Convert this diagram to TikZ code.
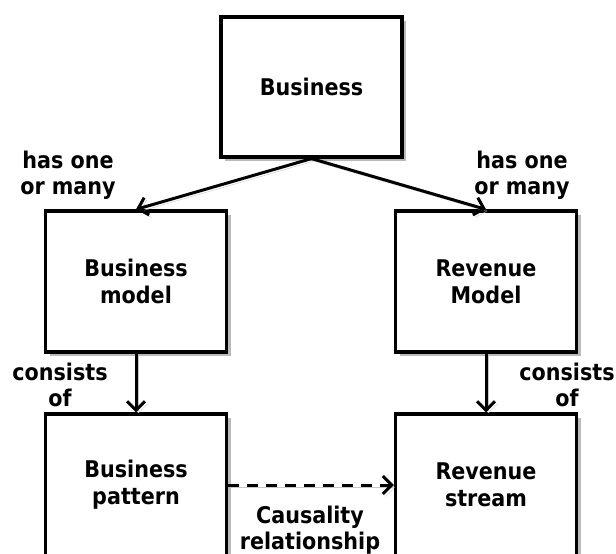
\documentclass[tikz,border=0pt]{standalone}
\usepackage{fontspec}
\setmainfont{DejaVu Sans Condensed}
\usetikzlibrary{arrows.meta,shadows}
\begin{document}
\begin{tikzpicture}[x=1pt,y=-1pt,
  box/.style={draw, line width=3.2pt, fill=white, inner sep=0pt, align=center,
    minimum width=181pt,
    font=\bfseries\fontsize{23}{27}\selectfont,
    drop shadow={shadow xshift=4pt, shadow yshift=-4pt, fill=black!45, opacity=0.6}},
  lbl/.style={align=center, inner sep=0pt, font=\bfseries\fontsize{23}{26}\selectfont},
  conn/.style={line width=3pt, -{Straight Barb[length=9pt,width=18pt]},
    preaction={draw=black!22, transform canvas={shift={(2.5pt,-2.5pt)}}}}
]
\useasboundingbox (0,0) rectangle (616,554);
\node[box, minimum height=140pt] (top) at (311.5,87) {Business};
\node[box, minimum height=141pt] (lm) at (136,281.5) {Business\\model};
\node[box, minimum height=141pt] (rm) at (486,281.5) {Revenue\\Model};
\node[box, minimum height=142pt] (lb) at (136,485) {Business\\pattern};
\node[box, minimum height=142pt] (rb) at (486,485) {Revenue\\stream};

\draw[conn] (top.south) -- (lm.north);
\draw[conn] (top.south) -- (rm.north);
\draw[conn] (lm.south) -- (lb.north);
\draw[conn] (rm.south) -- (rb.north);
\draw[conn, dash pattern=on 11pt off 8pt] (lb.east) -- (rb.west);

\node[lbl] (l1) at (68,175) {has one\\or many};
\node[lbl] (l2) at (522,175) {has one\\or many};
\node[lbl] (l3) at (60,385) {consists\\of};
\node[lbl] (l4) at (567,385) {consists\\of};
\node[lbl] (l5) at (310,530) {Causality\\relationship};
\end{tikzpicture}
\end{document}
